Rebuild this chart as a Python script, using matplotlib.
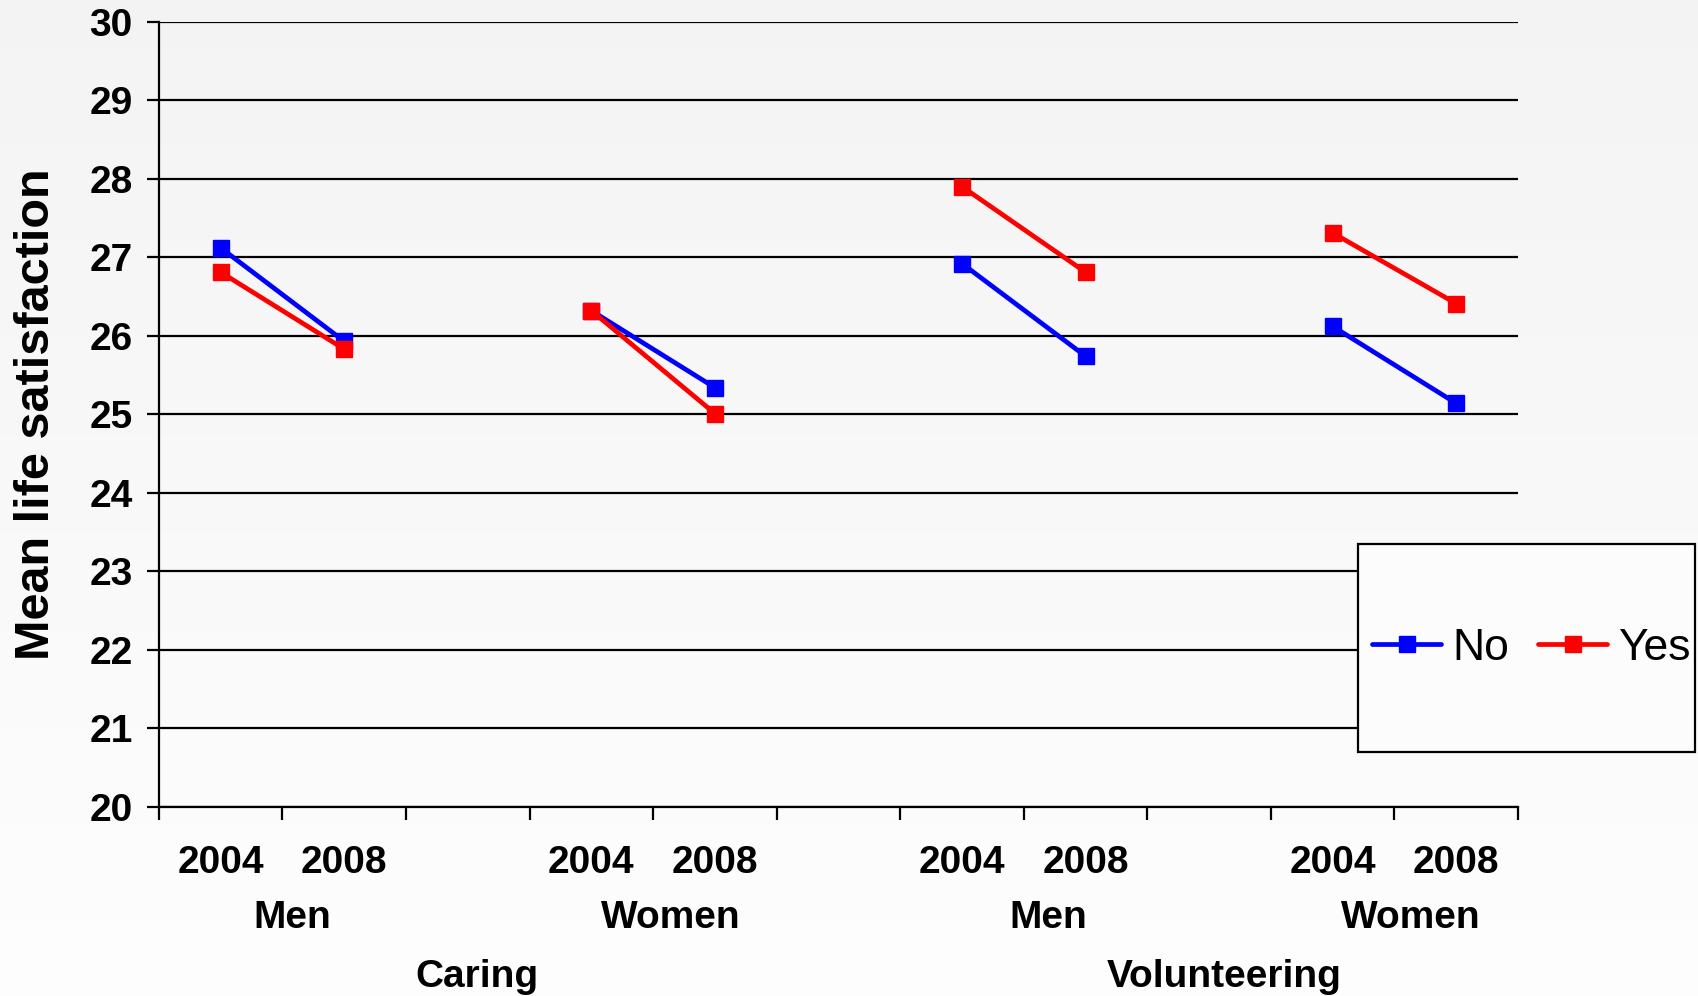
import numpy as np
import matplotlib.pyplot as plt
from matplotlib.patches import Rectangle

plt.rcParams['font.family'] = ['Liberation Sans', 'DejaVu Sans']

# groups: Caring men, Caring women, Volunteering men, Volunteering women
years = ['2004', '2008']
sexes = ['Men', 'Women', 'Men', 'Women']
activities = ['Caring', 'Volunteering']
no_vals = [[27.12, 25.93], [26.32, 25.34], [26.92, 25.74], [26.12, 25.14]]
yes_vals = [[26.81, 25.83], [26.32, 25.01], [27.90, 26.81], [27.31, 26.41]]

fig = plt.figure(figsize=(16.98, 9.96), dpi=100)

# soft grey-to-white background
bg = fig.add_axes([0, 0, 1, 1], zorder=-10)
shade = np.linspace(0.955, 0.995, 256).reshape(-1, 1)
bg.imshow(np.dstack([shade, shade, shade]), aspect='auto',
          extent=[0, 1, 0, 1], origin='upper')
bg.axis('off')

ax = fig.add_axes([0.0936, 0.1898, 0.8004, 0.7884])
ax.set_facecolor('none')

# each group takes two slots plus one empty slot as a gap
for g in range(4):
    xs = [g * 3, g * 3 + 1]
    ax.plot(xs, no_vals[g], color='#0000ff', lw=3.4, marker='s', ms=11,
            solid_capstyle='round', label='No' if g == 0 else None, zorder=3)
    ax.plot(xs, yes_vals[g], color='#ff0000', lw=3.4, marker='s', ms=11,
            solid_capstyle='round', label='Yes' if g == 0 else None, zorder=3)

ax.set_xlim(-0.5, 10.5)
ax.set_ylim(20, 30)
ax.set_yticks(range(20, 31))
ax.yaxis.grid(True, color='black', lw=1.6)
ax.set_axisbelow(True)
ax.tick_params(axis='y', labelsize=28, width=1.6, length=9, direction='out', pad=10)
for lab in ax.get_yticklabels():
    lab.set_fontweight('bold')

ax.set_xticks([i - 0.5 for i in range(12)])
ax.set_xticklabels([])
ax.tick_params(axis='x', width=1.6, length=9, direction='out')

for side in ['top', 'right']:
    ax.spines[side].set_visible(False)
for side in ['left', 'bottom']:
    ax.spines[side].set_linewidth(1.6)

ax.set_ylabel('Mean life satisfaction', fontsize=35, fontweight='bold', labelpad=22)

# year, sex and activity labels below the axis
trans = ax.get_xaxis_transform()
sex_offsets = [0.58, 0.64, 0.7, 0.63]
for g in range(4):
    for k, yr in enumerate(years):
        ax.text(g * 3 + k, -0.072, yr, transform=trans, ha='center', va='center',
                fontsize=28, fontweight='bold')
    ax.text(g * 3 + sex_offsets[g], -0.141, sexes[g], transform=trans, ha='center',
            va='center', fontsize=28, fontweight='bold')
ax.text(2.07, -0.217, activities[0], transform=trans, ha='center', va='center',
        fontsize=28, fontweight='bold')
ax.text(8.12, -0.217, activities[1], transform=trans, ha='center', va='center',
        fontsize=28, fontweight='bold')

# legend box reaching the right edge
fig.patches.append(Rectangle((0.800, 0.245), 0.198, 0.209, transform=fig.transFigure,
                             facecolor='#fcfcfc', edgecolor='black', lw=1.6, zorder=5))
leg = fig.legend(loc='center', bbox_to_anchor=(0.902, 0.349), ncol=2, frameon=False,
                 fontsize=32, handlelength=1.55, columnspacing=0.65, handletextpad=0.25,
                 borderpad=0, borderaxespad=0)
leg.set_zorder(6)

fig.savefig('out.png', dpi=100)
